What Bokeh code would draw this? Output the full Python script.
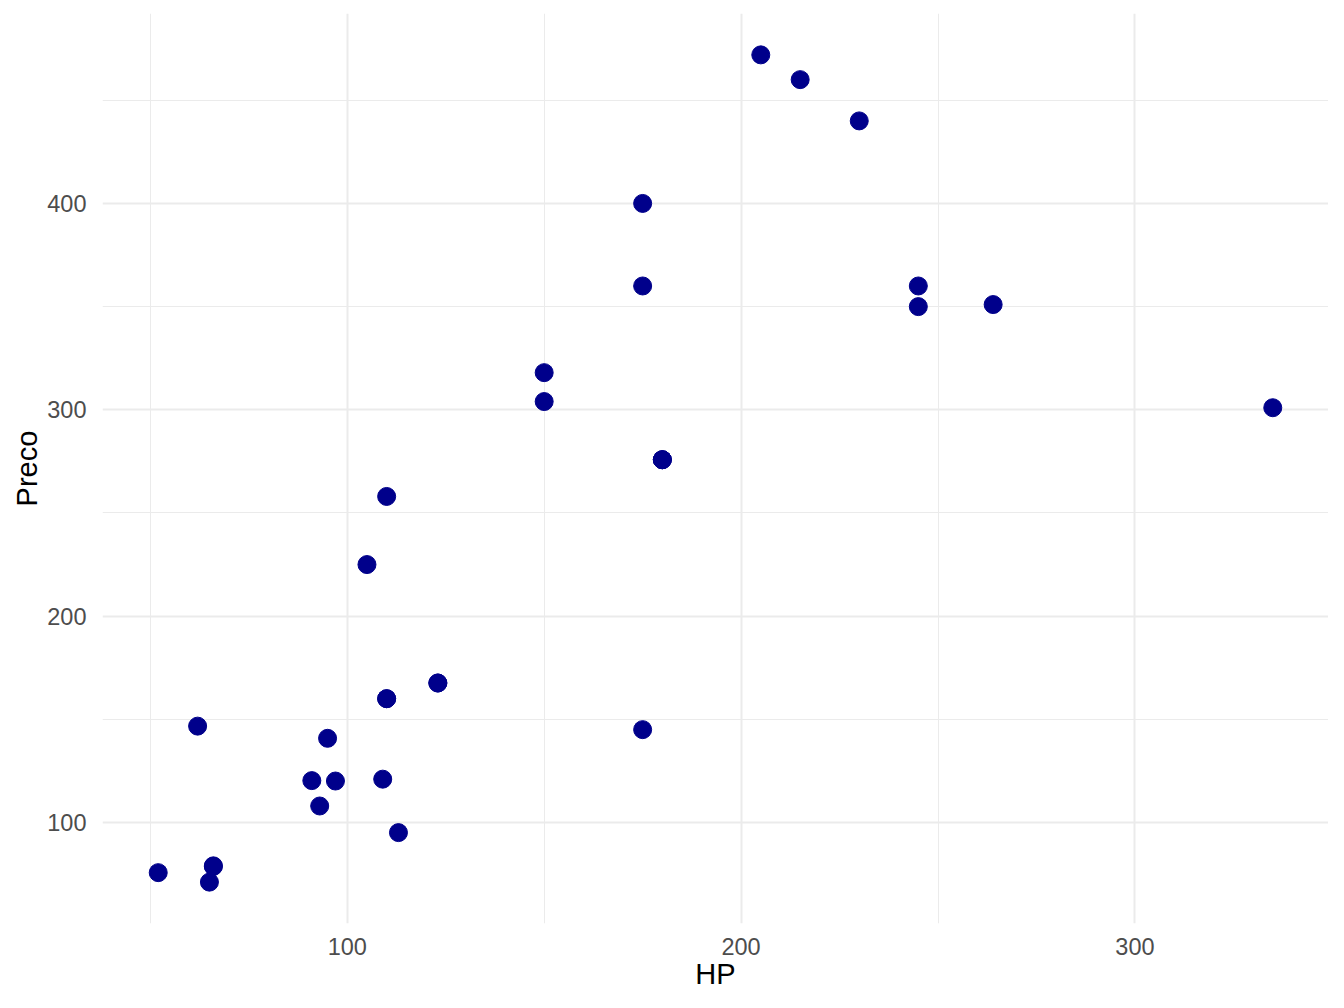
from bokeh.plotting import figure
from bokeh.models import FixedTicker, Range1d, ColumnDataSource
from bokeh.embed import file_html
from bokeh.resources import INLINE

hp = [110, 110, 93, 110, 175, 105, 245, 62, 95, 123, 123, 180, 180, 180, 205, 215,
      230, 66, 52, 65, 97, 150, 150, 245, 175, 66, 91, 113, 264, 175, 335, 109]
preco = [160, 160, 108, 258, 360, 225, 360, 146.7, 140.8, 167.6, 167.6, 275.8, 275.8,
         275.8, 472, 460, 440, 78.7, 75.7, 71.1, 120.1, 318, 304, 350, 400, 79, 120.3,
         95.1, 351, 145, 301, 121]
x_ticks = [100, 200, 300]
x_minor = [50, 150, 250]
y_ticks = [100, 200, 300, 400]
y_minor = [150, 250, 350, 450]

FONT = "Liberation Sans"

xr = max(hp) - min(hp)
yr = max(preco) - min(preco)
p = figure(width=1328, height=992, output_backend="svg", toolbar_location=None,
           x_range=Range1d(min(hp) - 0.05 * xr, max(hp) + 0.05 * xr),
           y_range=Range1d(min(preco) - 0.05 * yr, max(preco) + 0.05 * yr),
           min_border_left=102, min_border_right=0, min_border_top=13, min_border_bottom=69)
p.outline_line_color = None
p.background_fill_color = "white"
p.border_fill_color = "white"

src = ColumnDataSource(dict(hp=hp, preco=preco))
p.scatter("hp", "preco", source=src, size=18, color="#00008B", line_color="#00008B")

p.xaxis.ticker = FixedTicker(ticks=x_ticks, minor_ticks=x_minor)
p.yaxis.ticker = FixedTicker(ticks=y_ticks, minor_ticks=y_minor)

for ax in (p.xaxis[0], p.yaxis[0]):
    ax.axis_line_color = None
    ax.major_tick_line_color = None
    ax.minor_tick_line_color = None
    ax.major_label_text_font = FONT
    ax.major_label_text_font_size = "23.5px"
    ax.major_label_text_color = "#4D4D4D"
    ax.axis_label_text_font = FONT
    ax.axis_label_text_font_size = "29px"
    ax.axis_label_text_font_style = "normal"
    ax.axis_label_text_color = "black"

p.xaxis.axis_label = "HP"
p.yaxis.axis_label = "Preco"
p.xaxis.major_label_standoff = 8
p.yaxis.major_label_standoff = 10
p.xaxis.axis_label_standoff = 0
p.yaxis.axis_label_standoff = 1

for g in (p.xgrid[0], p.ygrid[0]):
    g.grid_line_color = "#EBEBEB"
    g.grid_line_width = 2
    g.minor_grid_line_color = "#EBEBEB"
    g.minor_grid_line_width = 1

open("out.html", "w").write(file_html(p, INLINE))
